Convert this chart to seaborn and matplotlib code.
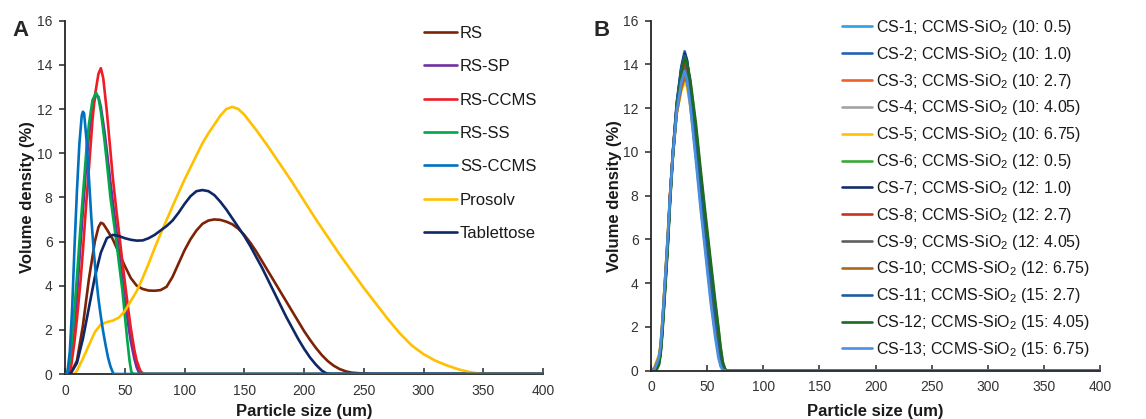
import numpy as np
import pandas as pd
import matplotlib
matplotlib.use("Agg")
import matplotlib.pyplot as plt
import seaborn as sns

# ---------------- Panel A data ----------------
a_names = ["RS", "RS-SP", "RS-CCMS", "RS-SS", "SS-CCMS", "Prosolv", "Tablettose"]
a_colors = ["#7E2206", "#7030A0", "#EE1C25", "#00A84A", "#0070C0", "#FFC000", "#0E2766"]

rs_x = [0, 5, 10, 15, 20, 25, 28, 30, 32, 35, 40, 45, 50, 55, 60, 65, 70, 75, 80, 85, 90, 95,
        100, 105, 110, 115, 120, 125, 130, 135, 140, 145, 150, 155, 160, 165, 170, 175, 180,
        185, 190, 195, 200, 205, 210, 215, 220, 225, 230, 235, 240, 250, 260, 400]
rs_y = [0, 0.05, 0.6, 2.2, 4.3, 6.0, 6.65, 6.85, 6.8, 6.55, 6.1, 5.5, 4.9, 4.35, 4.0, 3.85,
        3.78, 3.77, 3.8, 3.95, 4.4, 5.0, 5.6, 6.1, 6.5, 6.8, 6.95, 7.0, 6.98, 6.9, 6.78, 6.58,
        6.3, 5.95, 5.55, 5.1, 4.65, 4.2, 3.75, 3.3, 2.85, 2.4, 1.95, 1.55, 1.18, 0.85, 0.58,
        0.37, 0.22, 0.12, 0.06, 0.02, 0, 0]

rssp_x = [0, 3, 5, 8, 10, 13, 15, 18, 20, 23, 26, 28, 30, 33, 35, 38, 40, 43, 45, 48, 50,
          53, 55, 58, 60, 62, 63, 400]
rssp_y = [0, 0.05, 0.5, 1.9, 3.5, 5.9, 7.4, 9.6, 10.8, 12.1, 12.65, 12.55, 12.1, 11.0, 10.1,
          8.7, 7.8, 6.5, 5.6, 4.3, 3.4, 2.2, 1.5, 0.7, 0.3, 0.05, 0, 0]

rsccms_x = [0, 3, 5, 8, 10, 13, 15, 18, 20, 23, 25, 28, 30, 32, 35, 38, 40, 43, 45, 48, 50,
            53, 55, 58, 60, 63, 65, 67, 400]
rsccms_y = [0, 0.02, 0.3, 1.5, 2.5, 4.2, 5.6, 7.9, 9.3, 11.5, 12.6, 13.6, 13.85, 13.4, 11.9,
            10.1, 8.9, 7.4, 6.5, 5.1, 4.2, 2.9, 2.1, 1.1, 0.6, 0.15, 0.03, 0, 0]

rsss_x = [0, 2, 4, 7, 10, 13, 15, 18, 20, 23, 26, 28, 30, 33, 35, 38, 40, 43, 45, 48, 50,
          52, 54, 55.5, 57, 400]
rsss_y = [0, 0.05, 0.6, 2.3, 4.4, 6.7, 8.1, 10.2, 11.3, 12.4, 12.74, 12.5, 11.9, 10.6, 9.6,
          8.0, 7.2, 6.0, 5.1, 3.8, 2.7, 1.6, 0.6, 0.1, 0, 0]

ssccms_x = [0, 2, 4, 6, 8, 10, 12, 14, 15, 16, 18, 20, 22, 24, 26, 28, 30, 32, 34, 36, 38,
            40, 41, 400]
ssccms_y = [0, 0.05, 1.0, 3.0, 5.8, 8.3, 10.4, 11.7, 11.88, 11.8, 10.6, 8.9, 7.1, 5.6, 4.4,
            3.4, 2.6, 1.9, 1.3, 0.75, 0.35, 0.07, 0, 0]

prosolv_x = [0, 8, 10, 15, 20, 25, 30, 35, 40, 45, 50, 55, 60, 65, 70, 75, 80, 85, 90, 95,
             100, 105, 110, 115, 120, 125, 130, 135, 140, 145, 150, 160, 170, 180, 190, 200,
             210, 220, 230, 240, 250, 260, 270, 280, 290, 300, 310, 320, 330, 340, 350, 400]
prosolv_y = [0, 0, 0.15, 0.7, 1.3, 1.9, 2.25, 2.35, 2.42, 2.55, 2.85, 3.3, 3.75, 4.35, 5.0,
             5.7, 6.35, 6.97, 7.6, 8.2, 8.8, 9.35, 9.9, 10.45, 10.9, 11.3, 11.7, 12.0, 12.1,
             12.0, 11.75, 11.05, 10.3, 9.5, 8.7, 7.85, 7.0, 6.2, 5.4, 4.65, 3.9, 3.2, 2.5,
             1.85, 1.3, 0.9, 0.6, 0.38, 0.2, 0.07, 0, 0]

tab_x = [0, 5, 10, 15, 20, 25, 30, 35, 40, 45, 50, 55, 60, 65, 70, 75, 80, 85, 90, 95, 100,
         105, 110, 115, 120, 125, 130, 135, 140, 145, 150, 155, 160, 165, 170, 175, 180, 185,
         190, 195, 200, 205, 210, 215, 219, 222, 400]
tab_y = [0, 0.05, 0.5, 1.6, 3.0, 4.4, 5.5, 6.15, 6.3, 6.25, 6.15, 6.08, 6.04, 6.05, 6.15, 6.3,
         6.5, 6.7, 6.95, 7.3, 7.7, 8.05, 8.28, 8.33, 8.28, 8.1, 7.8, 7.45, 7.05, 6.65, 6.25,
         5.8, 5.3, 4.8, 4.25, 3.7, 3.15, 2.6, 2.1, 1.6, 1.15, 0.75, 0.42, 0.15, 0.02, 0, 0]

a_xs = [rs_x, rssp_x, rsccms_x, rsss_x, ssccms_x, prosolv_x, tab_x]
a_ys = [rs_y, rssp_y, rsccms_y, rsss_y, ssccms_y, prosolv_y, tab_y]

# ---------------- Panel B data ----------------
b_x = [0, 3, 5, 7, 8.5, 10, 12.5, 15, 17, 19.5, 23, 27, 30, 32, 35, 40, 44, 48, 53, 57,
       60, 62, 64, 66, 68, 400]
b_labels = [
    r"CS-1; CCMS-SiO$_2$ (10: 0.5)",
    r"CS-2; CCMS-SiO$_2$ (10: 1.0)",
    r"CS-3; CCMS-SiO$_2$ (10: 2.7)",
    r"CS-4; CCMS-SiO$_2$ (10: 4.05)",
    r"CS-5; CCMS-SiO$_2$ (10: 6.75)",
    r"CS-6; CCMS-SiO$_2$ (12: 0.5)",
    r"CS-7; CCMS-SiO$_2$ (12: 1.0)",
    r"CS-8; CCMS-SiO$_2$ (12: 2.7)",
    r"CS-9; CCMS-SiO$_2$ (12: 4.05)",
    r"CS-10; CCMS-SiO$_2$ (12: 6.75)",
    r"CS-11; CCMS-SiO$_2$ (15: 2.7)",
    r"CS-12; CCMS-SiO$_2$ (15: 4.05)",
    r"CS-13; CCMS-SiO$_2$ (15: 6.75)",
]
b_colors = ["#2AA3E2", "#2363B4", "#F0602A", "#A3A3A3", "#FFC000", "#3AAA35", "#142F6A",
            "#C5341B", "#5F5F5F", "#B0651E", "#1F5D9C", "#1E6A1E", "#4A90E2"]

cs1 = [0, 0.05, 0.25, 0.55, 1.0, 2.0, 4.0, 6.1, 8.0, 9.9, 12.0, 13.3, 13.8, 13.4, 12.2, 9.8, 7.7, 5.8, 3.4, 1.8, 0.8, 0.3, 0.05, 0, 0, 0]
cs2 = [0, 0.03, 0.2, 0.45, 0.9, 1.9, 3.9, 6.0, 8.0, 10.0, 12.3, 13.9, 14.6, 14.2, 13.0, 10.5, 8.4, 6.5, 4.2, 2.4, 1.3, 0.6, 0.15, 0, 0, 0]
cs3 = [0, 0.1, 0.35, 0.6, 1.1, 2.1, 4.1, 6.2, 8.1, 10.0, 12.1, 13.4, 14.0, 13.7, 12.6, 10.2, 8.2, 6.3, 4.0, 2.3, 1.2, 0.5, 0.1, 0, 0, 0]
cs4 = [0, 0.05, 0.3, 0.55, 1.0, 2.0, 4.0, 6.0, 7.9, 9.8, 11.8, 13.0, 13.5, 13.2, 12.2, 9.9, 7.9, 6.0, 3.8, 2.1, 1.0, 0.4, 0.08, 0, 0, 0]
cs5 = [0, 0.15, 0.45, 0.7, 1.2, 2.2, 4.2, 6.3, 8.1, 9.9, 11.8, 12.8, 13.2, 13.0, 12.1, 9.9, 8.0, 6.2, 3.9, 2.2, 1.1, 0.45, 0.1, 0, 0, 0]
cs6 = [0, 0, 0.1, 0.35, 0.8, 1.7, 3.7, 5.8, 7.8, 9.8, 12.0, 13.5, 14.2, 14.0, 13.2, 11.1, 9.1, 7.2, 4.9, 3.1, 1.9, 1.0, 0.35, 0.05, 0, 0]
cs7 = [0, 0, 0.1, 0.3, 0.8, 1.8, 3.8, 5.9, 7.9, 9.9, 12.2, 13.8, 14.5, 14.2, 13.1, 10.8, 8.8, 6.9, 4.6, 2.8, 1.6, 0.8, 0.25, 0, 0, 0]
cs8 = [0, 0, 0.15, 0.4, 0.9, 1.9, 3.9, 6.0, 8.0, 10.0, 12.1, 13.5, 14.1, 13.8, 12.8, 10.5, 8.5, 6.6, 4.3, 2.5, 1.4, 0.6, 0.15, 0, 0, 0]
cs9 = [0, 0.05, 0.2, 0.5, 0.95, 1.95, 3.95, 6.0, 7.9, 9.9, 12.0, 13.3, 13.8, 13.5, 12.5, 10.3, 8.3, 6.4, 4.1, 2.4, 1.3, 0.55, 0.12, 0, 0, 0]
cs10 = [0, 0.1, 0.35, 0.6, 1.1, 2.1, 4.1, 6.1, 8.0, 9.9, 11.8, 12.9, 13.4, 13.2, 12.4, 10.3, 8.4, 6.6, 4.3, 2.6, 1.4, 0.7, 0.2, 0, 0, 0]
cs11 = [0, 0.02, 0.15, 0.4, 0.85, 1.85, 3.85, 5.95, 7.95, 10.0, 12.2, 13.8, 14.4, 14.1, 13.0, 10.6, 8.6, 6.7, 4.4, 2.6, 1.5, 0.7, 0.2, 0, 0, 0]
cs12 = [0, 0, 0.05, 0.25, 0.7, 1.6, 3.6, 5.7, 7.7, 9.8, 12.0, 13.6, 14.3, 14.1, 13.3, 11.3, 9.3, 7.4, 5.1, 3.3, 2.0, 1.1, 0.4, 0.08, 0, 0]
cs13 = [0, 0.05, 0.3, 0.6, 1.1, 2.1, 4.1, 6.2, 8.0, 9.9, 11.9, 13.2, 13.7, 13.3, 12.1, 9.6, 7.5, 5.6, 3.2, 1.6, 0.6, 0.2, 0.02, 0, 0, 0]
b_ys = [cs1, cs2, cs3, cs4, cs5, cs6, cs7, cs8, cs9, cs10, cs11, cs12, cs13]

x_ticks = [0, 50, 100, 150, 200, 250, 300, 350, 400]
y_ticks = [0, 2, 4, 6, 8, 10, 12, 14, 16]

# ---------------- Build frames ----------------
df_a = pd.concat([pd.DataFrame({"size": x, "vol": y, "sample": n})
                  for n, x, y in zip(a_names, a_xs, a_ys)], ignore_index=True)
df_b = pd.concat([pd.DataFrame({"size": b_x, "vol": y, "sample": n})
                  for n, y in zip(b_labels, b_ys)], ignore_index=True)

sns.set_theme(style="ticks")
plt.rcParams["font.family"] = ["Liberation Sans", "DejaVu Sans"]
plt.rcParams["mathtext.fontset"] = "custom"
plt.rcParams["mathtext.rm"] = "Liberation Sans"
plt.rcParams["mathtext.it"] = "Liberation Sans:italic"
plt.rcParams["mathtext.bf"] = "Liberation Sans:bold"

W, H = 1146, 419
fig = plt.figure(figsize=(W / 100, H / 100), dpi=100)
axA = fig.add_axes([65 / W, 1 - 374 / H, (543 - 65) / W, (374 - 20.7) / H])
axB = fig.add_axes([651 / W, 1 - 370.7 / H, (1100 - 651) / W, (370.7 - 20.7) / H])

sns.lineplot(data=df_a, x="size", y="vol", hue="sample", hue_order=a_names,
             palette=dict(zip(a_names, a_colors)), linewidth=1.9, sort=False,
             estimator=None, ax=axA)
sns.lineplot(data=df_b, x="size", y="vol", hue="sample", hue_order=b_labels,
             palette=dict(zip(b_labels, b_colors)), linewidth=1.9, sort=False,
             estimator=None, ax=axB)

# SS-CCMS zero line lies on top in the reference
axA.lines[4].set_zorder(3)
for ln in axA.lines + axB.lines:
    ln.set_solid_joinstyle("round")
    ln.set_solid_capstyle("round")

tick_color = "#333333"
for ax in (axA, axB):
    ax.set_xlim(0, 400)
    ax.set_ylim(0, 16)
    ax.set_xticks(x_ticks)
    ax.set_yticks(y_ticks)
    sns.despine(ax=ax)
    for s in ("left", "bottom"):
        ax.spines[s].set_color("#262626")
        ax.spines[s].set_linewidth(1.3)
    ax.tick_params(axis="x", direction="in", length=4, width=1.1, pad=7,
                   labelsize=10, labelcolor=tick_color, color="#262626")
    ax.tick_params(axis="y", direction="out", length=4, width=1.1, pad=5,
                   labelsize=10, labelcolor=tick_color, color="#262626")
    ax.set_xlabel("Particle size (um)", fontsize=12, fontweight="bold", color="#1a1a1a")
    ax.set_ylabel("Volume density (%)", fontsize=12, fontweight="bold", color="#1a1a1a")

axA.xaxis.set_label_coords(0.5, -0.085)
axA.yaxis.set_label_coords(-0.063, 0.5)
axB.xaxis.set_label_coords(0.5, -0.095)
axB.yaxis.set_label_coords(-0.065, 0.5)

hA, lA = axA.get_legend_handles_labels()
axA.legend(hA, lA, loc="upper left", bbox_to_anchor=(424 / W, 1 - 26 / H),
           bbox_transform=fig.transFigure, frameon=False, fontsize=12,
           handlelength=1.95, handletextpad=0.2, labelspacing=1.1, borderpad=0,
           borderaxespad=0)
hB, lB = axB.get_legend_handles_labels()
axB.legend(hB, lB, loc="upper left", bbox_to_anchor=(842 / W, 1 - 18 / H),
           bbox_transform=fig.transFigure, frameon=False, fontsize=11.5,
           handlelength=1.9, handletextpad=0.25, labelspacing=0.49, borderpad=0,
           borderaxespad=0)
for lg in (axA.get_legend(), axB.get_legend()):
    for t in lg.get_texts():
        t.set_color("#1a1a1a")
    for l in lg.get_lines():
        l.set_linewidth(1.9)

fig.text(12 / W, 1 - 30 / H, "A", fontsize=16, fontweight="bold", va="center", ha="left")
fig.text(593 / W, 1 - 30 / H, "B", fontsize=16, fontweight="bold", va="center", ha="left")

fig.savefig("out.png", dpi=100)
